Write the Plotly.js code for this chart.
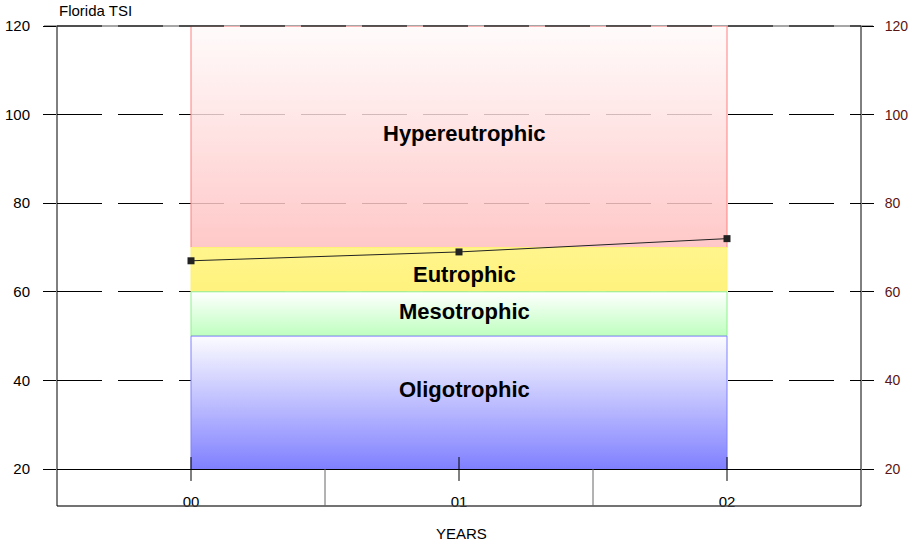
<!DOCTYPE html>
<html>
<head>
<meta charset="utf-8">
<script src="https://cdn.plot.ly/plotly-3.0.1.min.js"></script>
<style>html,body{margin:0;padding:0;background:#fff}#chart{width:911px;height:544px}</style>
</head>
<body>
<div id="chart"></div>
<script>
// ---- data ----
const years = ['00', '01', '02'];
const tsiValues = [67, 69, 72];
const zoneNames = ['Hypereutrophic', 'Eutrophic', 'Mesotrophic', 'Oligotrophic'];
const zoneLow = [70, 60, 50, 20];
const zoneHigh = [120, 70, 60, 50];
const yTicks = [20, 40, 60, 80, 100, 120];

// ---- styles ----
const zoneBottomColor = ['rgba(255,190,190,0.85)', 'rgba(255,242,125,1)', 'rgba(190,255,190,1)', 'rgba(128,128,255,1)'];
const zoneTopColor = ['rgba(255,250,250,0.8)', 'rgba(255,245,140,1)', 'rgba(255,255,255,1)', 'rgba(252,252,255,1)'];
const zoneLine = ['#ff8080', 'rgba(255,240,120,1)', '#90f090', '#8080ff'];
const labelShift = [3, -5, 2, 13];
const FONT = 'Liberation Sans, Arial, Helvetica, sans-serif';

const xIdx = years.map((_, i) => i);
const x0 = xIdx[0], x1 = xIdx[xIdx.length - 1];

const traces = [];
zoneNames.forEach((name, i) => {
  traces.push({
    type: 'scatter', mode: 'lines',
    x: [x0, x1, x1, x0, x0],
    y: [zoneLow[i], zoneLow[i], zoneHigh[i], zoneHigh[i], zoneLow[i]],
    fill: 'toself',
    fillgradient: {type: 'vertical', colorscale: [[0, zoneBottomColor[i]], [1, zoneTopColor[i]]]},
    line: {color: zoneLine[i], width: 1},
    hoverinfo: 'skip', showlegend: false
  });
});
traces.push({
  type: 'scatter', mode: 'lines+markers',
  x: xIdx, y: tsiValues,
  line: {color: '#222', width: 1},
  marker: {symbol: 'square', size: 7, color: '#222'},
  showlegend: false
});
traces.push({type: 'scatter', x: xIdx, y: tsiValues, yaxis: 'y2', mode: 'none', hoverinfo: 'skip', showlegend: false});

const boxBottom = -37 / 443;
const shapes = [];
// bottom box
shapes.push({type: 'line', xref: 'paper', yref: 'paper', x0: 0, x1: 1, y0: boxBottom, y1: boxBottom, line: {color: '#444', width: 1.5}});
shapes.push({type: 'line', xref: 'paper', yref: 'paper', x0: 0, x1: 0, y0: boxBottom, y1: 1, line: {color: '#000', width: 1}});
shapes.push({type: 'line', xref: 'paper', yref: 'paper', x0: 1, x1: 1, y0: boxBottom, y1: 1, line: {color: '#000', width: 1}});
for (let i = 0; i < xIdx.length - 1; i++) {
  const xm = (xIdx[i] + xIdx[i + 1]) / 2;
  shapes.push({type: 'line', xref: 'x', yref: 'paper', x0: xm, x1: xm, y0: boxBottom, y1: 0, line: {color: '#666', width: 1}});
}
xIdx.forEach(v => {
  shapes.push({type: 'line', xref: 'x', yref: 'paper', x0: v, x1: v, y0: -0.027, y1: 0.027, line: {color: '#000', width: 1}});
});
// top line
shapes.push({type: 'line', xref: 'paper', yref: 'paper', x0: -13/804, x1: 1 + 12/804, y0: 1, y1: 1, line: {color: '#888', width: 1.5}, layer: 'below'});
shapes.push({type: 'line', xref: 'paper', yref: 'paper', x0: 0, x1: 1, y0: 1, y1: 1, line: {color: '#333', width: 1.5, dash: '45px,16px'}});

const annotations = zoneNames.map((name, i) => ({
  xref: 'x', yref: 'y', x: (x0 + x1) / 2, y: (zoneLow[i] + zoneHigh[i]) / 2,
  text: '<b>' + name + '</b>', showarrow: false, xshift: 5, yshift: labelShift[i],
  font: {family: FONT, size: 22, color: '#000'}
}));
annotations.push({xref: 'paper', yref: 'paper', x: 0, y: 1, xanchor: 'left', yanchor: 'bottom', yshift: 5,
  text: 'Florida TSI', showarrow: false, font: {family: FONT, size: 15, color: '#000'}});
annotations.push({xref: 'x', yref: 'paper', x: (x0 + x1) / 2, y: -64 / 443, yanchor: 'middle', xshift: 2,
  text: 'YEARS', showarrow: false, font: {family: FONT, size: 15, color: '#000'}});

const layout = {
  width: 911, height: 544,
  margin: {l: 57, r: 50, t: 26, b: 75},
  paper_bgcolor: '#fff', plot_bgcolor: '#fff',
  font: {family: FONT, size: 15, color: '#000'},
  showlegend: false,
  xaxis: {
    range: [-0.5, 2.5], tickvals: xIdx, ticktext: years, showgrid: false, zeroline: false,
    showline: true, linecolor: '#000', linewidth: 1, ticks: '', ticklabelstandoff: 19,
    tickfont: {size: 15, color: '#000'}, fixedrange: true
  },
  yaxis: {
    range: [20, 120], tickvals: yTicks, showgrid: true, gridcolor: '#000', gridwidth: 1, griddash: '45px,16px',
    zeroline: false, showline: false, ticks: 'outside', ticklen: 13, tickcolor: '#000', ticklabelstandoff: 10,
    tickfont: {size: 15, color: '#000'}, fixedrange: true
  },
  yaxis2: {
    range: [20, 120], tickvals: yTicks, overlaying: 'y', side: 'right', showgrid: false, zeroline: false,
    showline: false, ticks: 'outside', ticklen: 12, tickcolor: '#000', ticklabelstandoff: 8,
    tickfont: {size: 14, color: '#5a1414'}, fixedrange: true
  },
  shapes: shapes,
  annotations: annotations
};

Plotly.newPlot('chart', traces, layout, {displayModeBar: false, staticPlot: true});
</script>
</body>
</html>
